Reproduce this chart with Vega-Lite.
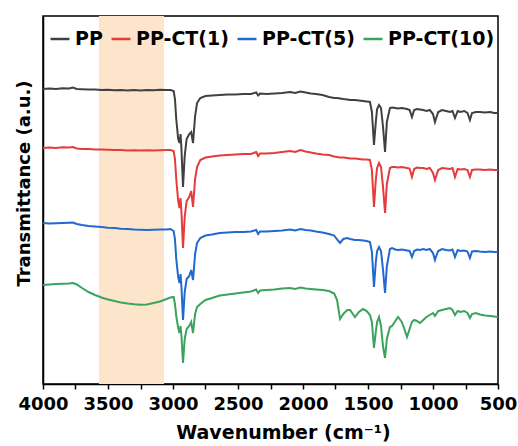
{
  "$schema": "https://vega.github.io/schema/vega-lite/v6.json",
  "width": 455,
  "height": 368,
  "autosize": {"type": "none"},
  "padding": {"left": 43, "top": 16, "right": 20, "bottom": 62},
  "background": "white",
  "datasets": {
    "spectra": [
      {"w":4000,"PP":295,"PP-CT(1)":236,"PP-CT(5)":161,"PP-CT(10)":99},
      {"w":3950,"PP":295.5,"PP-CT(1)":236.5,"PP-CT(5)":160.5,"PP-CT(10)":99.5},
      {"w":3900,"PP":295,"PP-CT(1)":236,"PP-CT(5)":160.8,"PP-CT(10)":100},
      {"w":3850,"PP":295.8,"PP-CT(1)":236.8,"PP-CT(5)":161,"PP-CT(10)":100.3},
      {"w":3800,"PP":295.5,"PP-CT(1)":236.5,"PP-CT(5)":161.3,"PP-CT(10)":100.5},
      {"w":3770,"PP":296.5,"PP-CT(1)":237,"PP-CT(5)":161.5,"PP-CT(10)":101},
      {"w":3740,"PP":295,"PP-CT(1)":235.5,"PP-CT(5)":160,"PP-CT(10)":99.5},
      {"w":3700,"PP":294.8,"PP-CT(1)":235,"PP-CT(5)":159,"PP-CT(10)":96},
      {"w":3650,"PP":294.5,"PP-CT(1)":235,"PP-CT(5)":158,"PP-CT(10)":92},
      {"w":3600,"PP":294.6,"PP-CT(1)":234.6,"PP-CT(5)":157.5,"PP-CT(10)":89},
      {"w":3550,"PP":294,"PP-CT(1)":234.5,"PP-CT(5)":157,"PP-CT(10)":86.5},
      {"w":3500,"PP":294.3,"PP-CT(1)":234.3,"PP-CT(5)":156.2,"PP-CT(10)":84.5},
      {"w":3450,"PP":293.8,"PP-CT(1)":234,"PP-CT(5)":156,"PP-CT(10)":83},
      {"w":3400,"PP":294,"PP-CT(1)":234,"PP-CT(5)":155.3,"PP-CT(10)":81.5},
      {"w":3350,"PP":293.5,"PP-CT(1)":233.5,"PP-CT(5)":155,"PP-CT(10)":80.5},
      {"w":3300,"PP":294,"PP-CT(1)":233.8,"PP-CT(5)":154.5,"PP-CT(10)":79.8},
      {"w":3250,"PP":293.6,"PP-CT(1)":233.4,"PP-CT(5)":154.3,"PP-CT(10)":79.3},
      {"w":3200,"PP":294,"PP-CT(1)":233.8,"PP-CT(5)":154,"PP-CT(10)":79.5},
      {"w":3150,"PP":293.8,"PP-CT(1)":233.5,"PP-CT(5)":154.2,"PP-CT(10)":81},
      {"w":3100,"PP":294.2,"PP-CT(1)":233.8,"PP-CT(5)":154.5,"PP-CT(10)":82.5},
      {"w":3050,"PP":294,"PP-CT(1)":234,"PP-CT(5)":154.6,"PP-CT(10)":85},
      {"w":3020,"PP":294,"PP-CT(1)":234,"PP-CT(5)":155,"PP-CT(10)":86.5},
      {"w":2995,"PP":293,"PP-CT(1)":233,"PP-CT(5)":153,"PP-CT(10)":87},
      {"w":2985,"PP":285,"PP-CT(1)":225,"PP-CT(5)":145,"PP-CT(10)":80},
      {"w":2975,"PP":265,"PP-CT(1)":205,"PP-CT(5)":125,"PP-CT(10)":68},
      {"w":2960,"PP":245,"PP-CT(1)":183,"PP-CT(5)":107,"PP-CT(10)":56},
      {"w":2950,"PP":241,"PP-CT(1)":176,"PP-CT(5)":101,"PP-CT(10)":51},
      {"w":2942,"PP":250,"PP-CT(1)":186,"PP-CT(5)":110,"PP-CT(10)":58},
      {"w":2935,"PP":235,"PP-CT(1)":172,"PP-CT(5)":97,"PP-CT(10)":48},
      {"w":2923,"PP":197,"PP-CT(1)":136,"PP-CT(5)":64,"PP-CT(10)":21},
      {"w":2910,"PP":228,"PP-CT(1)":167,"PP-CT(5)":92,"PP-CT(10)":45},
      {"w":2895,"PP":245,"PP-CT(1)":183,"PP-CT(5)":105,"PP-CT(10)":55},
      {"w":2875,"PP":250,"PP-CT(1)":187,"PP-CT(5)":108,"PP-CT(10)":58},
      {"w":2860,"PP":252,"PP-CT(1)":193,"PP-CT(5)":114,"PP-CT(10)":62},
      {"w":2846,"PP":241,"PP-CT(1)":177,"PP-CT(5)":104,"PP-CT(10)":51},
      {"w":2830,"PP":268,"PP-CT(1)":205,"PP-CT(5)":130,"PP-CT(10)":70},
      {"w":2815,"PP":281,"PP-CT(1)":217,"PP-CT(5)":141,"PP-CT(10)":77},
      {"w":2790,"PP":286,"PP-CT(1)":224,"PP-CT(5)":146,"PP-CT(10)":80},
      {"w":2750,"PP":288,"PP-CT(1)":226.5,"PP-CT(5)":148.5,"PP-CT(10)":84},
      {"w":2700,"PP":288.5,"PP-CT(1)":227.5,"PP-CT(5)":149.5,"PP-CT(10)":86},
      {"w":2640,"PP":289,"PP-CT(1)":228.5,"PP-CT(5)":151,"PP-CT(10)":88.5},
      {"w":2580,"PP":289.5,"PP-CT(1)":229,"PP-CT(5)":151.5,"PP-CT(10)":89.5},
      {"w":2520,"PP":289.5,"PP-CT(1)":229.5,"PP-CT(5)":152,"PP-CT(10)":90.5},
      {"w":2460,"PP":290,"PP-CT(1)":230,"PP-CT(5)":152,"PP-CT(10)":91.5},
      {"w":2400,"PP":290,"PP-CT(1)":230,"PP-CT(5)":152.5,"PP-CT(10)":92.5},
      {"w":2360,"PP":291.5,"PP-CT(1)":232,"PP-CT(5)":154,"PP-CT(10)":94.5},
      {"w":2345,"PP":288.5,"PP-CT(1)":228,"PP-CT(5)":150,"PP-CT(10)":91},
      {"w":2330,"PP":290.5,"PP-CT(1)":230.5,"PP-CT(5)":152.5,"PP-CT(10)":93.5},
      {"w":2280,"PP":290,"PP-CT(1)":230.5,"PP-CT(5)":152.5,"PP-CT(10)":94},
      {"w":2220,"PP":290.5,"PP-CT(1)":231,"PP-CT(5)":153,"PP-CT(10)":94.5},
      {"w":2160,"PP":291,"PP-CT(1)":232,"PP-CT(5)":153.5,"PP-CT(10)":95.5},
      {"w":2100,"PP":292,"PP-CT(1)":233,"PP-CT(5)":154.5,"PP-CT(10)":96},
      {"w":2060,"PP":291,"PP-CT(1)":232,"PP-CT(5)":153.5,"PP-CT(10)":95},
      {"w":2020,"PP":292.5,"PP-CT(1)":234,"PP-CT(5)":155,"PP-CT(10)":96.5},
      {"w":1980,"PP":291.5,"PP-CT(1)":232.5,"PP-CT(5)":154,"PP-CT(10)":95.5},
      {"w":1940,"PP":290.5,"PP-CT(1)":231.5,"PP-CT(5)":153.5,"PP-CT(10)":95},
      {"w":1900,"PP":290,"PP-CT(1)":230.5,"PP-CT(5)":152.5,"PP-CT(10)":94.5},
      {"w":1850,"PP":289,"PP-CT(1)":229.5,"PP-CT(5)":151.5,"PP-CT(10)":94},
      {"w":1800,"PP":287,"PP-CT(1)":229,"PP-CT(5)":150,"PP-CT(10)":93},
      {"w":1760,"PP":286,"PP-CT(1)":227.5,"PP-CT(5)":148.5,"PP-CT(10)":90.5},
      {"w":1738,"PP":286,"PP-CT(1)":227,"PP-CT(5)":144.5,"PP-CT(10)":84},
      {"w":1715,"PP":285.5,"PP-CT(1)":226.5,"PP-CT(5)":141,"PP-CT(10)":65},
      {"w":1690,"PP":285,"PP-CT(1)":226.5,"PP-CT(5)":145,"PP-CT(10)":70},
      {"w":1660,"PP":284.5,"PP-CT(1)":226,"PP-CT(5)":146,"PP-CT(10)":74},
      {"w":1638,"PP":284,"PP-CT(1)":225.5,"PP-CT(5)":145,"PP-CT(10)":74},
      {"w":1600,"PP":284,"PP-CT(1)":225.5,"PP-CT(5)":144,"PP-CT(10)":67},
      {"w":1570,"PP":283.5,"PP-CT(1)":225,"PP-CT(5)":144,"PP-CT(10)":72},
      {"w":1538,"PP":283,"PP-CT(1)":224.5,"PP-CT(5)":143.5,"PP-CT(10)":75},
      {"w":1510,"PP":282.5,"PP-CT(1)":224.5,"PP-CT(5)":143,"PP-CT(10)":73},
      {"w":1485,"PP":282,"PP-CT(1)":224,"PP-CT(5)":142,"PP-CT(10)":69},
      {"w":1470,"PP":272,"PP-CT(1)":214,"PP-CT(5)":132,"PP-CT(10)":62},
      {"w":1454,"PP":239,"PP-CT(1)":177,"PP-CT(5)":97,"PP-CT(10)":36},
      {"w":1440,"PP":262,"PP-CT(1)":204,"PP-CT(5)":122,"PP-CT(10)":52},
      {"w":1430,"PP":275,"PP-CT(1)":216,"PP-CT(5)":133,"PP-CT(10)":62},
      {"w":1415,"PP":279,"PP-CT(1)":221,"PP-CT(5)":137,"PP-CT(10)":67},
      {"w":1400,"PP":276,"PP-CT(1)":217,"PP-CT(5)":133,"PP-CT(10)":58},
      {"w":1385,"PP":258,"PP-CT(1)":198,"PP-CT(5)":115,"PP-CT(10)":38},
      {"w":1369,"PP":232,"PP-CT(1)":171,"PP-CT(5)":91,"PP-CT(10)":26},
      {"w":1355,"PP":262,"PP-CT(1)":200,"PP-CT(5)":118,"PP-CT(10)":45},
      {"w":1331,"PP":276,"PP-CT(1)":216,"PP-CT(5)":135,"PP-CT(10)":57},
      {"w":1315,"PP":276.5,"PP-CT(1)":217,"PP-CT(5)":136,"PP-CT(10)":58},
      {"w":1290,"PP":276,"PP-CT(1)":217,"PP-CT(5)":134.5,"PP-CT(10)":63},
      {"w":1269,"PP":275.5,"PP-CT(1)":216.5,"PP-CT(5)":134,"PP-CT(10)":67},
      {"w":1240,"PP":276,"PP-CT(1)":217,"PP-CT(5)":134.5,"PP-CT(10)":62},
      {"w":1220,"PP":275.5,"PP-CT(1)":216.5,"PP-CT(5)":134,"PP-CT(10)":55},
      {"w":1200,"PP":275,"PP-CT(1)":216,"PP-CT(5)":133.5,"PP-CT(10)":47},
      {"w":1180,"PP":274,"PP-CT(1)":215.5,"PP-CT(5)":133,"PP-CT(10)":55},
      {"w":1162,"PP":267,"PP-CT(1)":207,"PP-CT(5)":127,"PP-CT(10)":62},
      {"w":1145,"PP":274,"PP-CT(1)":215,"PP-CT(5)":133,"PP-CT(10)":64},
      {"w":1123,"PP":275,"PP-CT(1)":216.5,"PP-CT(5)":134.5,"PP-CT(10)":63},
      {"w":1100,"PP":274.5,"PP-CT(1)":216,"PP-CT(5)":134,"PP-CT(10)":61},
      {"w":1075,"PP":274,"PP-CT(1)":216,"PP-CT(5)":135,"PP-CT(10)":64},
      {"w":1050,"PP":273,"PP-CT(1)":215,"PP-CT(5)":134,"PP-CT(10)":67},
      {"w":1025,"PP":274,"PP-CT(1)":216,"PP-CT(5)":135,"PP-CT(10)":69},
      {"w":1000,"PP":270,"PP-CT(1)":211,"PP-CT(5)":131,"PP-CT(10)":71},
      {"w":985,"PP":262,"PP-CT(1)":204,"PP-CT(5)":124,"PP-CT(10)":68},
      {"w":975,"PP":266,"PP-CT(1)":208,"PP-CT(5)":128,"PP-CT(10)":70},
      {"w":960,"PP":272,"PP-CT(1)":214,"PP-CT(5)":133,"PP-CT(10)":73},
      {"w":930,"PP":274,"PP-CT(1)":216,"PP-CT(5)":135,"PP-CT(10)":74},
      {"w":900,"PP":273,"PP-CT(1)":215.5,"PP-CT(5)":134,"PP-CT(10)":75},
      {"w":869,"PP":272,"PP-CT(1)":215,"PP-CT(5)":133.5,"PP-CT(10)":76},
      {"w":850,"PP":273,"PP-CT(1)":216,"PP-CT(5)":134.5,"PP-CT(10)":74},
      {"w":831,"PP":266,"PP-CT(1)":207,"PP-CT(5)":127,"PP-CT(10)":69},
      {"w":810,"PP":273,"PP-CT(1)":215,"PP-CT(5)":134,"PP-CT(10)":73},
      {"w":790,"PP":272,"PP-CT(1)":214.5,"PP-CT(5)":133,"PP-CT(10)":72},
      {"w":760,"PP":273,"PP-CT(1)":215,"PP-CT(5)":133.5,"PP-CT(10)":73},
      {"w":735,"PP":271,"PP-CT(1)":214,"PP-CT(5)":132.5,"PP-CT(10)":71},
      {"w":716,"PP":264,"PP-CT(1)":207,"PP-CT(5)":126,"PP-CT(10)":66},
      {"w":700,"PP":271,"PP-CT(1)":214,"PP-CT(5)":132.5,"PP-CT(10)":70},
      {"w":670,"PP":272,"PP-CT(1)":214.5,"PP-CT(5)":133,"PP-CT(10)":71},
      {"w":640,"PP":272,"PP-CT(1)":214.5,"PP-CT(5)":132.5,"PP-CT(10)":69.5},
      {"w":600,"PP":271.5,"PP-CT(1)":214,"PP-CT(5)":132,"PP-CT(10)":68.5},
      {"w":560,"PP":272,"PP-CT(1)":214.5,"PP-CT(5)":132.5,"PP-CT(10)":68},
      {"w":530,"PP":271,"PP-CT(1)":214,"PP-CT(5)":132,"PP-CT(10)":67.5},
      {"w":500,"PP":271,"PP-CT(1)":214,"PP-CT(5)":132,"PP-CT(10)":67}
    ],
    "band": [{"x1": 3570, "x2": 3070}]
  },
  "layer": [
    {
      "data": {"name": "band"},
      "mark": {"type": "rect", "color": "#fde5cc", "opacity": 1},
      "encoding": {
        "x": {"field": "x1", "type": "quantitative", "title": "Wavenumber (cm⁻¹)",
              "scale": {"domain": [500, 4000], "reverse": true, "nice": false, "zero": false},
              "axis": {"values": [500, 750, 1000, 1250, 1500, 1750, 2000, 2250, 2500, 2750, 3000, 3250, 3500, 3750, 4000],
                       "format": "d", "labelExpr": "datum.value % 500 === 0 ? datum.label : ''",
                       "labelOverlap": false, "labelBound": false, "labelFlush": false}},
        "x2": {"field": "x2"}
      }
    },
    {
      "data": {"name": "spectra"},
      "transform": [{"fold": ["PP", "PP-CT(1)", "PP-CT(5)", "PP-CT(10)"], "as": ["series", "t"]}],
      "mark": {"type": "line", "strokeWidth": 2, "clip": true},
      "encoding": {
        "x": {"field": "w", "type": "quantitative", "title": "Wavenumber (cm⁻¹)",
              "scale": {"domain": [500, 4000], "reverse": true, "nice": false, "zero": false},
              "axis": {"values": [500, 750, 1000, 1250, 1500, 1750, 2000, 2250, 2500, 2750, 3000, 3250, 3500, 3750, 4000],
                       "format": "d", "labelExpr": "datum.value % 500 === 0 ? datum.label : ''",
                       "labelOverlap": false, "labelBound": false, "labelFlush": false}},
        "y": {"field": "t", "type": "quantitative", "title": "Transmittance (a.u.)",
              "scale": {"domain": [0, 368], "nice": false, "zero": false}},
        "color": {
          "field": "series", "type": "nominal", "title": null,
          "scale": {"domain": ["PP", "PP-CT(1)", "PP-CT(5)", "PP-CT(10)"],
                    "range": ["#404040", "#e63b3b", "#2168cf", "#3aa35c"]}
        }
      }
    }
  ],
  "config": {
    "view": {"stroke": "black", "strokeWidth": 1.5},
    "axis": {
      "grid": false,
      "domainColor": "black", "domainWidth": 1.5,
      "tickColor": "black", "tickWidth": 1.5,
      "labelFont": "DejaVu Sans", "labelFontWeight": "bold", "labelFontSize": 18, "labelColor": "black",
      "titleFont": "DejaVu Sans", "titleFontWeight": "bold", "titleColor": "black"
    },
    "axisX": {
      "tickSize": 5, "labelPadding": 6,
      "titleFontSize": 19, "titlePadding": 10, "titleX": 240
    },
    "axisY": {
      "labels": false, "ticks": false,
      "titleFontSize": 18, "titlePadding": 10, "titleY": 167
    },
    "legend": {
      "orient": "none", "legendX": 6, "legendY": 12, "direction": "horizontal", "columns": 4,
      "symbolType": "stroke", "symbolSize": 361, "symbolStrokeWidth": 2.5,
      "labelFont": "DejaVu Sans", "labelFontWeight": "bold", "labelFontSize": 19, "labelColor": "black",
      "labelOffset": 4, "columnPadding": 3, "labelLimit": 300, "padding": 0
    }
  }
}
